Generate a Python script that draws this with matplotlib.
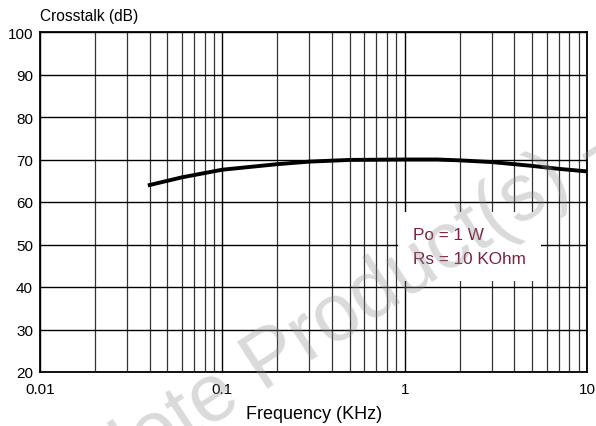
import numpy as np
import matplotlib.pyplot as plt
from matplotlib.ticker import FixedLocator, LogLocator, NullFormatter

plt.rcParams['font.family'] = ['Liberation Sans', 'DejaVu Sans']

# 読み取った曲線データ
freq_khz = [0.04, 0.06, 0.1, 0.2, 0.3, 0.5, 1.0, 1.5, 2.0, 3.0, 5.0, 7.0, 10.0]
crosstalk_db = [64.0, 65.8, 67.6, 68.9, 69.5, 69.9, 70.0, 70.0, 69.8, 69.4, 68.5, 67.8, 67.2]

x_ticks = [0.01, 0.1, 1, 10]
x_tick_labels = ["0.01", "0.1", "1", "10"]
y_ticks = [20, 30, 40, 50, 60, 70, 80, 90, 100]

fig = plt.figure(figsize=(5.96, 4.27), dpi=100)
ax = fig.add_axes([40 / 596, 1 - 373 / 427, 547 / 596, 340 / 427])

ax.plot(freq_khz, crosstalk_db, color="black", lw=2.8, zorder=3)

ax.set_xscale("log")
ax.set_xlim(0.01, 10)
ax.set_ylim(20, 100)
ax.xaxis.set_major_locator(FixedLocator(x_ticks))
ax.set_xticklabels(x_tick_labels)
ax.xaxis.set_minor_locator(LogLocator(base=10, subs=np.arange(2, 10)))
ax.xaxis.set_minor_formatter(NullFormatter())
ax.set_yticks(y_ticks)

ax.grid(True, which="major", axis="both", color="black", lw=1.0)
ax.grid(True, which="minor", axis="x", color="#333333", lw=0.9)
ax.tick_params(which="both", length=0, labelsize=11)
ax.tick_params(axis="x", pad=7)
ax.tick_params(axis="y", pad=5)
for s in ax.spines.values():
    s.set_linewidth(1.3)

# パラメータ表示（白い箱）
ax.text(1.11, 49.5, "Po = 1 W\nRs = 10 KOhm", color="#7a2040", fontsize=12.3,
        linespacing=1.75, va="center", ha="left", zorder=4,
        bbox=dict(facecolor="white", edgecolor="none", pad=11))

fig.text(40 / 596, 1 - 17 / 427, "Crosstalk (dB)", fontsize=11.2, va="center", ha="left")
fig.text(314 / 596, 1 - 415 / 427, "Frequency (KHz)", fontsize=13, va="center", ha="center")

# 透かし
fig.text(-26 / 596, 1 - 580 / 427, "Obsolete Product(s) -", fontsize=58, color="#8c8c8c",
         rotation=33, rotation_mode="anchor", ha="left", va="baseline",
         alpha=0.32, zorder=10)

fig.savefig("out.png", dpi=100)
